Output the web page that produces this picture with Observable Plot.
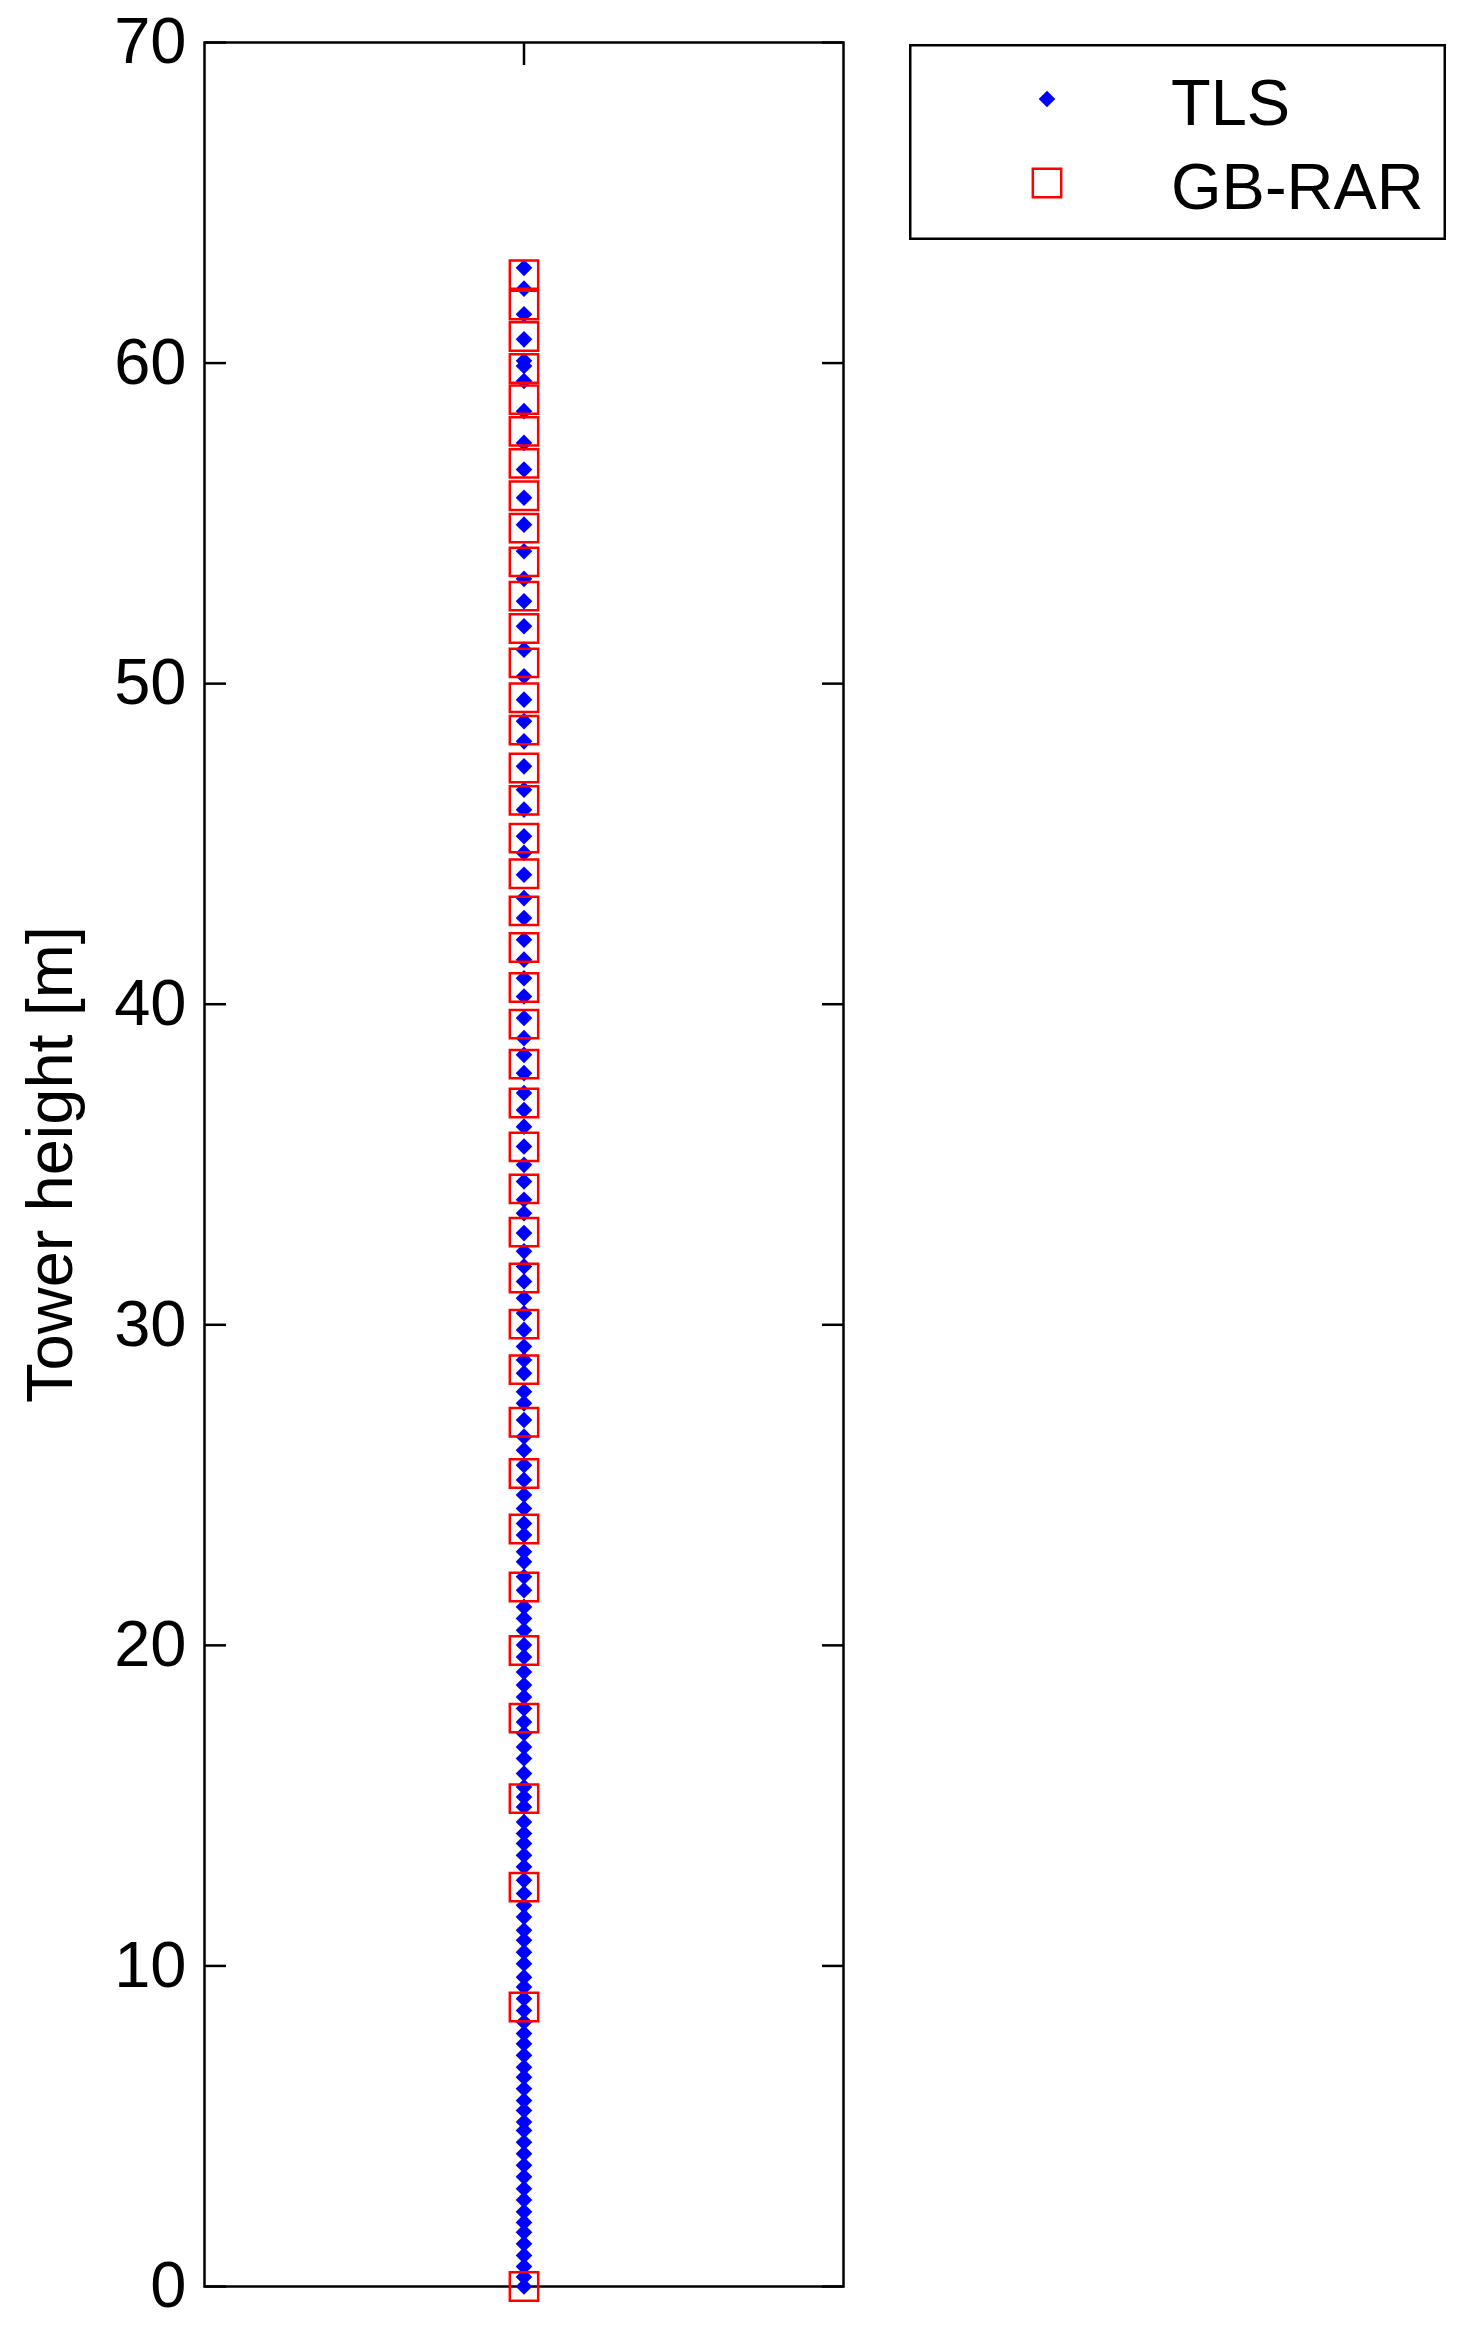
<!DOCTYPE html>
<html>
<head>
<meta charset="utf-8">
<script src="https://cdn.jsdelivr.net/npm/d3@7"></script>
<script src="https://cdn.jsdelivr.net/npm/@observablehq/plot@0.6"></script>
<style>
  body { margin: 0; background: #fff; }
  #wrap { position: relative; width: 1464px; height: 2331px; font-family: "Liberation Sans", Arial, sans-serif; }
  #legend { position: absolute; left: 909px; top: 44px; }
</style>
</head>
<body>
<div id="wrap"></div>
<script>
// ---- data ----
const yTicks = [0, 10, 20, 30, 40, 50, 60, 70];
const xTicks = [0];
const columnX = 0;
const seriesNames = ["TLS", "GB-RAR"];
const seriesColors = ["#0000ff", "#ff0000"];
const yLabel = "Tower height [m]";

// TLS points (tower height, m)
const tlsHeights = [
  0, 0.3, 0.62, 0.97, 1.33, 1.69, 2.0, 2.33, 2.7, 3.05, 3.42, 3.78,
  4.14, 4.5, 4.87, 5.13, 5.49, 5.8, 6.17, 6.53, 6.84, 7.21, 7.57, 7.89,
  8.25, 8.61, 8.98, 9.34, 9.65, 10.07, 10.43, 10.8, 11.11, 11.53, 11.89,
  12.26, 12.67, 13.09, 13.45, 13.82, 14.13, 14.49, 14.96, 15.27, 15.58,
  16.0, 16.47, 16.83, 17.25, 17.61, 18.03, 18.39, 18.76, 19.17, 19.64,
  20.01, 20.47, 20.84, 21.2, 21.72, 22.14, 22.61, 22.92, 23.44, 23.8,
  24.27, 24.69, 25.16, 25.62, 26.09, 26.51, 27.03, 27.55, 27.91, 28.49,
  28.9, 29.32, 29.84, 30.36, 30.83, 31.35, 31.82, 32.29, 32.86, 33.48,
  33.9, 34.47, 34.99, 35.56, 36.18, 36.7, 37.23, 37.85, 38.42, 38.94,
  39.57, 40.24, 40.81, 41.39, 42.01, 42.69, 43.31, 44.04, 44.72, 45.24,
  46.07, 46.69, 47.42, 48.2, 48.83, 49.5, 50.23, 51.06, 51.79, 52.57,
  53.27, 54.13, 54.96, 55.8, 56.68, 57.51, 58.5, 59.44, 59.91, 60.07,
  60.74, 61.52, 62.32, 62.97
];

// GB-RAR points (tower height, m)
const gbrarHeights = [
  0, 8.72, 12.46, 15.22, 17.73, 19.84, 21.82, 23.63, 25.36, 26.96, 28.6,
  30.02, 31.46, 32.89, 34.24, 35.55, 36.92, 38.13, 39.38, 40.52, 41.77,
  42.91, 44.07, 45.18, 46.36, 47.37, 48.55, 49.56, 50.65, 51.72, 52.73,
  53.8, 54.85, 55.86, 56.87, 57.87, 58.86, 59.83, 60.83, 61.81, 62.76
];

const font = "Liberation Sans, Arial, sans-serif";

const chart = Plot.plot({
  width: 1464,
  height: 2331,
  marginLeft: 204,
  marginRight: 621,
  marginTop: 42,
  marginBottom: 45,
  style: { fontFamily: font, fontSize: "65px", color: "#000", background: "#fff" },
  x: { domain: [-1, 1], axis: null },
  y: { domain: [0, 70], axis: null },
  marks: [
    Plot.axisY(yTicks, { anchor: "left", tickSize: -22, tickPadding: 40, strokeWidth: 2.5, fontSize: 65, label: null }),
    Plot.axisY(yTicks, { anchor: "right", tickSize: -22, strokeWidth: 2.5, tickFormat: () => "", label: null }),
    Plot.axisX(xTicks, { anchor: "bottom", tickSize: -22, strokeWidth: 2.5, tickFormat: () => "", label: null }),
    Plot.axisX(xTicks, { anchor: "top", tickSize: -22, strokeWidth: 2.5, tickFormat: () => "", label: null }),
    Plot.frame({ stroke: "#000", strokeWidth: 2.5 }),
    Plot.text([yLabel], { frameAnchor: "left", dx: -153, rotate: -90, textAnchor: "middle", lineAnchor: "middle", fontSize: 65, fill: "#000" }),
    Plot.dot(tlsHeights, { x: () => columnX, y: d => d, symbol: "diamond2", r: 7.5, fill: seriesColors[0], stroke: "none" }),
    Plot.dot(gbrarHeights, { x: () => columnX, y: d => d, symbol: "square", r: 16, fill: "none", stroke: seriesColors[1], strokeWidth: 2.5 })
  ]
});

const wrap = document.getElementById("wrap");
wrap.appendChild(chart);

// ---- legend (MATLAB-style boxed legend) ----
const lw = 537, lh = 196;
const leg = d3.select(wrap).append("svg")
  .attr("id", "legend")
  .attr("width", lw).attr("height", lh)
  .style("font-family", font);
leg.append("rect").attr("x", 1.25).attr("y", 1.25).attr("width", lw - 2.5).attr("height", lh - 2.5)
  .attr("fill", "#fff").attr("stroke", "#000").attr("stroke-width", 2.5);
const rows = [
  { name: seriesNames[0], cy: 55, base: 81, sym: d3.symbolDiamond2, size: Math.PI * 56, fill: seriesColors[0], stroke: "none" },
  { name: seriesNames[1], cy: 139, base: 165, sym: d3.symbolSquare, size: Math.PI * 256, fill: "none", stroke: seriesColors[1] }
];
rows.forEach(r => {
  leg.append("path").attr("d", d3.symbol(r.sym, r.size)())
    .attr("transform", `translate(138,${r.cy})`)
    .attr("fill", r.fill).attr("stroke", r.stroke).attr("stroke-width", 2.5);
  leg.append("text").attr("x", 262).attr("y", r.base).attr("font-size", 65).attr("fill", "#000").text(r.name);
});
</script>
</body>
</html>
